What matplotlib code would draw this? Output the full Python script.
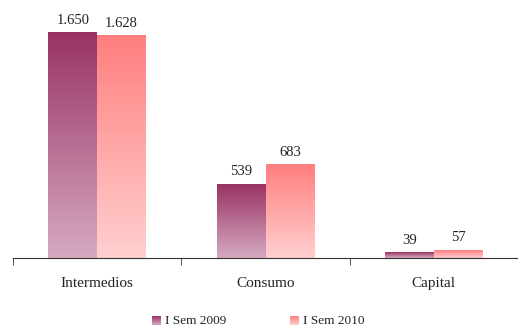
import numpy as np
import matplotlib
matplotlib.use("Agg")
import matplotlib.pyplot as plt
from matplotlib.colors import LinearSegmentedColormap

plt.rcParams['font.family'] = ['Liberation Serif', 'DejaVu Serif']

categorias = ["Intermedios", "Consumo", "Capital"]
sem_2009 = [1650, 539, 39]
sem_2010 = [1628, 683, 57]
etiquetas_2009 = ["1.650", "539", "39"]
etiquetas_2010 = ["1.628", "683", "57"]
series = ["I Sem 2009", "I Sem 2010"]

# degradados verticales (claro abajo, intenso arriba)
cmap_2009 = LinearSegmentedColormap.from_list("c2009", ["#d6aac0", "#993366"])
cmap_2010 = LinearSegmentedColormap.from_list("c2010", ["#ffcfcf", "#ff7f7f"])
grad = np.linspace(0, 1, 256).reshape(-1, 1)

fig = plt.figure(figsize=(5.18, 3.27), dpi=100)
ax = fig.add_axes([13 / 518, 1 - 258 / 327, 505 / 518, 245.5 / 327])

x = np.arange(len(categorias))
ancho = 0.29


def barras_degradado(pos, valores, cmap):
    bars = ax.bar(pos, valores, ancho, color="none", edgecolor="none")
    for b in bars:
        x0, y0 = b.get_x(), b.get_y()
        w, h = b.get_width(), b.get_height()
        ax.imshow(grad, cmap=cmap, origin="lower", aspect="auto",
                  extent=(x0, x0 + w, y0, y0 + h), zorder=2)
    return bars


b1 = barras_degradado(x - ancho / 2, sem_2009, cmap_2009)
b2 = barras_degradado(x + ancho / 2, sem_2010, cmap_2010)

for i in range(len(categorias)):
    ax.text(x[i] - ancho / 2, sem_2009[i] + 45, etiquetas_2009[i],
            ha="center", va="bottom", fontsize=10.5, color="#222222")
    ax.text(x[i] + ancho / 2, sem_2010[i] + 45, etiquetas_2010[i],
            ha="center", va="bottom", fontsize=10.5, color="#222222")

ax.set_xlim(-0.5, 2.5)
ax.set_ylim(0, 1800)

for s in ["top", "right", "left"]:
    ax.spines[s].set_visible(False)
ax.spines["bottom"].set_color("#333333")
ax.set_yticks([])

ax.set_xticks(x)
ax.set_xticklabels(categorias, fontsize=11, color="#222222")
ax.tick_params(axis="x", which="major", length=0, pad=14)
ax.set_xticks([-0.5, 0.5, 1.5, 2.5], minor=True)
ax.tick_params(axis="x", which="minor", length=5, direction="out", color="#333333")

# leyenda manual con cuadritos en degradado
for (lx, tx, cmap, nombre) in [(152, 165, cmap_2009, series[0]),
                               (290, 303, cmap_2010, series[1])]:
    lax = fig.add_axes([lx / 518, 1 - 325 / 327, 9 / 518, 9 / 327])
    lax.imshow(grad, cmap=cmap, origin="lower", aspect="auto")
    lax.axis("off")
    fig.text(tx / 518, 1 - 320.5 / 327, nombre, ha="left", va="center",
             fontsize=9.5, color="#222222")

fig.savefig("out.png", dpi=100)
